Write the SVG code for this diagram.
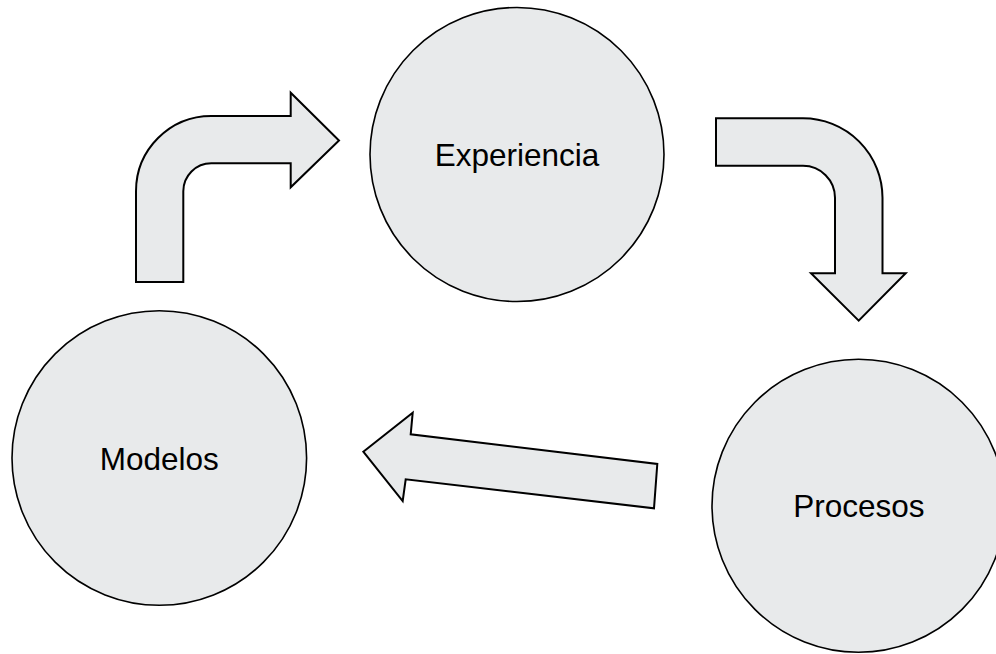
<svg xmlns="http://www.w3.org/2000/svg" width="996" height="654" viewBox="0 0 996 654">
<style>
.node{fill:#e8eaeb;stroke:#000;stroke-width:1.6}
.arrow{fill:#e8eaeb;stroke:#000;stroke-width:2;stroke-linejoin:miter}
.label{font-family:"Liberation Sans",Arial,sans-serif;font-size:31.5px;fill:#000;text-anchor:middle}
</style>
<rect width="996" height="654" fill="#fff"/>
<g id="connectors">
<path class="arrow" d="M136,282 L136,191.3 A75.3,75.3 0 0 1 211.3,116 L290.7,116 L290.7,92.7 L339,140.5 L290.7,187.3 L290.7,163.3 L211.3,163.3 A28,28 0 0 0 183.3,191.3 L183.3,282 Z"/>
<path class="arrow" d="M716,118.3 L803,118.3 A79.5,79.5 0 0 1 882.5,197.8 L882.5,273.3 L905.7,273.3 L858.7,320.7 L811,273.3 L835,273.3 L835,197.8 A32,32 0 0 0 803,165.8 L716,165.8 Z"/>
<path class="arrow" d="M363.3,451.7 L412.7,412.7 L410.7,434.3 L657.3,464 L654,508.3 L405.7,479.3 L402.7,501 Z"/>
</g>
<g id="experiencia">
<circle class="node" cx="517" cy="154.5" r="147"/>
<text class="label" x="517" y="165.7">Experiencia</text>
</g>
<g id="modelos">
<circle class="node" cx="159.3" cy="458" r="147.3"/>
<text class="label" x="159.3" y="470">Modelos</text>
</g>
<g id="procesos">
<circle class="node" cx="858.5" cy="505.8" r="146.5"/>
<text class="label" x="858.8" y="517.3">Procesos</text>
</g>
</svg>
